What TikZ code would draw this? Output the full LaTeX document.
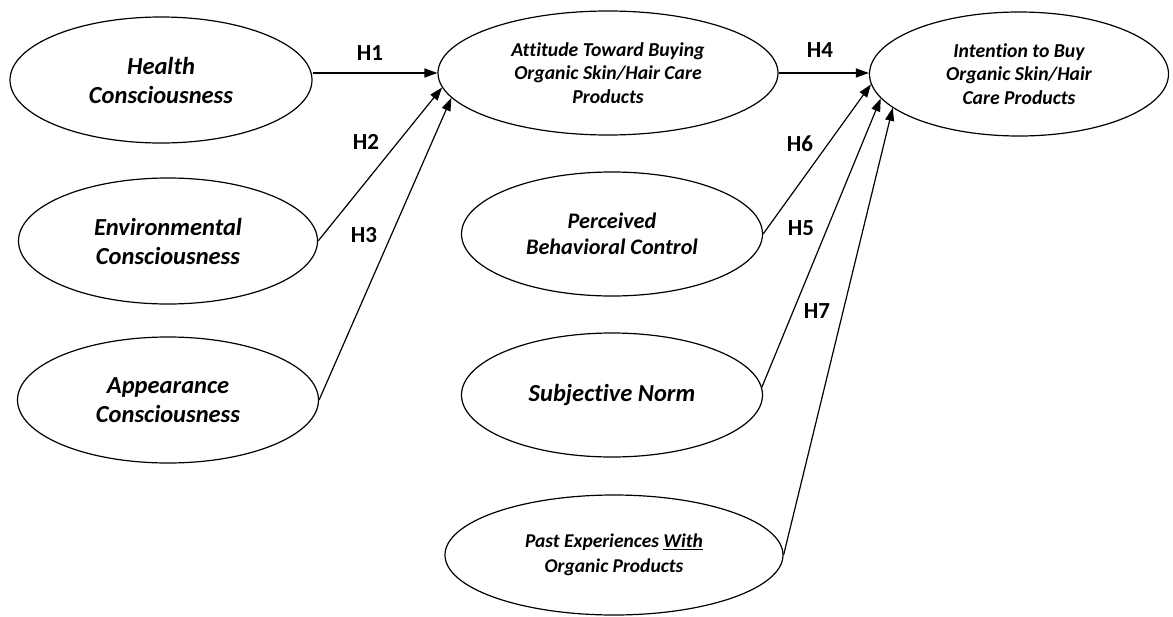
\documentclass[tikz,border=0pt]{standalone}
\usepackage{fontspec}
\setmainfont{Carlito}[Ligatures=NoCommon]
\usetikzlibrary{shapes.geometric,arrows.meta}
\begin{document}
\begin{tikzpicture}[x=1pt,y=-1pt,
  oval/.style={draw, ellipse, line width=1.2pt, inner sep=0pt, align=center},
  bigtext/.style={font=\fontsize{24.5}{29}\selectfont\bfseries\itshape},
  midtext/.style={font=\fontsize{22.2}{26}\selectfont\bfseries\itshape},
  smalltext/.style={font=\fontsize{19.7}{23.5}\selectfont\bfseries\itshape},
  pasttext/.style={font=\fontsize{19.5}{25}\selectfont\bfseries\itshape},
  arr/.style={line width=1.2pt, -{Triangle[length=13pt,width=9pt]}},
  hlab/.style={font=\fontsize{23}{26}\selectfont\bfseries, inner sep=0pt}]
\useasboundingbox (0,0) rectangle (1173,616);
% latent constructs
\node[oval, bigtext, minimum width=302pt, minimum height=126pt] (health) at (161,80) {Health\\Consciousness};
\node[oval, bigtext, minimum width=299pt, minimum height=126pt] (env) at (168,241) {Environmental\\Consciousness};
\node[oval, bigtext, minimum width=301pt, minimum height=126pt] (app) at (168,400) {Appearance\\Consciousness};
\node[oval, smalltext, minimum width=340pt, minimum height=124pt] (att) at (608,73) {Attitude Toward Buying\\Organic Skin/Hair Care\\Products};
\node[oval, smalltext, minimum width=299pt, minimum height=124pt] (int) at (1019,74) {Intention to Buy\\Organic Skin/Hair\\Care Products};
\node[oval, midtext, minimum width=301pt, minimum height=124pt] (perc) at (612,234) {Perceived\\Behavioral Control};
\node[oval, bigtext, minimum width=301pt, minimum height=124pt] (subj) at (612,395) {Subjective Norm};
\node[oval, pasttext, minimum width=338pt, minimum height=120pt] (past) at (614,555) {Past Experiences \underline{With}\\Organic Products};
% hypotheses labels
\node[hlab] (h1) at (370,53) {H1};
\node[hlab] (h2) at (366,142) {H2};
\node[hlab] (h3) at (364,235) {H3};
\node[hlab] (h4) at (820,50) {H4};
\node[hlab] (h6) at (800,144) {H6};
\node[hlab] (h5) at (801,228) {H5};
\node[hlab] (h7) at (817,311) {H7};
% paths
\draw[arr] (att.west -| health.east) -- (att.west);
\draw[arr] (env.east) -- (att.185);
\draw[arr] (app.east) -- (att.189);
\draw[arr] (att.east) -- (att.east -| int.west);
\draw[arr] (perc.east) -- (int.184);
\draw[arr] (subj.3) -- (int.190);
\draw[arr] (past.east) -- (int.195);
\end{tikzpicture}
\end{document}
